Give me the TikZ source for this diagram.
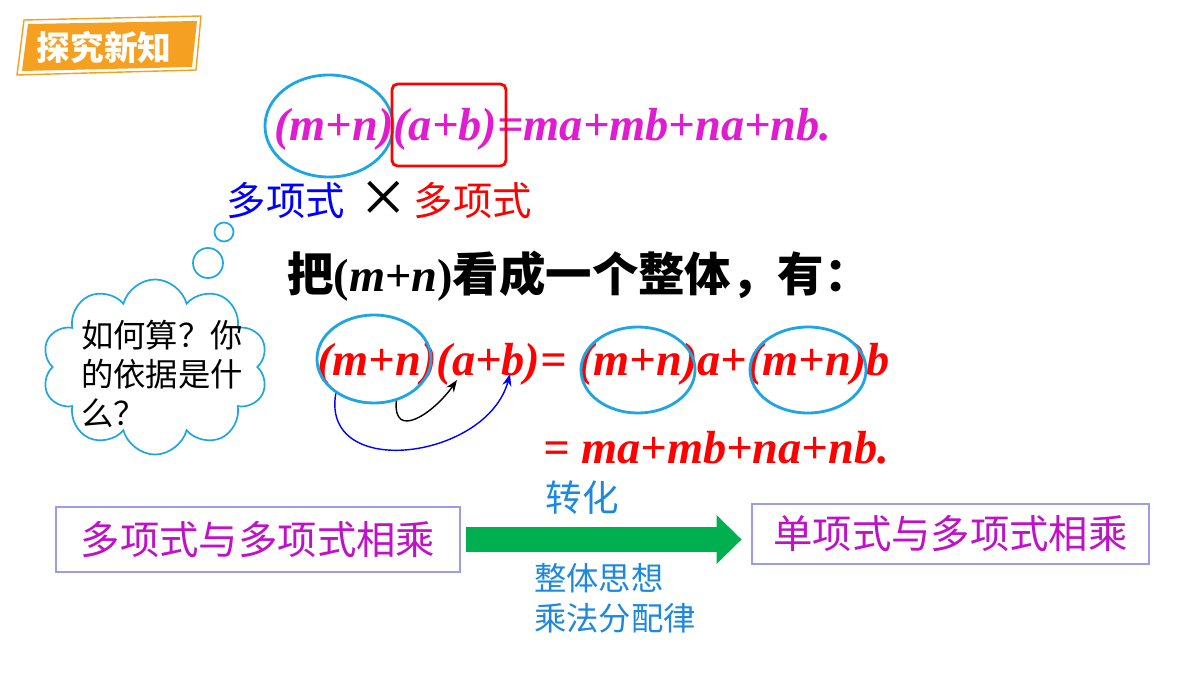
\documentclass[tikz,border=0pt]{standalone}
\usepackage{fontspec}
\setmainfont{Liberation Serif}
\newfontfamily\cjk{Noto Sans CJK SC}
\usepackage{tikz}
\usetikzlibrary{arrows.meta,positioning,shapes.geometric,shapes.symbols}
\definecolor{titleorange}{HTML}{F5A020}
\definecolor{eqmagenta}{HTML}{E01CD0}
\definecolor{ringblue}{HTML}{1EA5E3}
\definecolor{boxedge}{HTML}{9C9CEB}
\definecolor{boxtext}{HTML}{C010C8}
\definecolor{noteblue}{HTML}{1E88E0}
\definecolor{arrowgreen}{HTML}{00B050}
\newcommand\fsz[1]{\fontsize{#1}{#1}\selectfont}

\begin{document}
\begin{tikzpicture}[x=0.025cm, y=-0.025cm,
  ring/.style={ellipse, draw=ringblue, line width=2pt, inner sep=0pt},
  bubble/.style={circle, draw=ringblue, line width=1.2pt, inner sep=0pt},
  eqtext/.style={font={\fsz{33pt}\bfseries\itshape}, inner sep=0pt},
  flowbox/.style={draw=boxedge, line width=2pt, fill=white, text=boxtext, font={\cjk\fsz{28pt}}}]
\useasboundingbox (0,0) rectangle (1200,675);
% title badge
\draw[titleorange, line width=1pt] (24,20)--(201,16)--(196,70)--(17,75)--cycle;
\fill[titleorange] (28,24)--(197,21)--(192,67)--(22,71)--cycle;
\node[text=white, font={\cjk\fsz{24pt}\bfseries}] (title) at (104,47) {探究新知};
% first line
\node[eqtext, text=eqmagenta, anchor=base west] (eqtop) at (274,141)
  {(m+n)(a+b)=ma+mb+na+nb.};
\node[ring, minimum width=3.2cm, minimum height=2.55cm] (ringtop) at (329,126) {};
\node[draw=red, line width=2pt, rounded corners=4pt, minimum width=2.85cm, minimum height=2.05cm] (abbox) at (449,125) {};
\node[text=blue, font={\cjk\fsz{28pt}}] (polyleft) at (286,201) {多项式};
\node[font={\fsz{56pt}}, inner sep=0pt, anchor=base] (times) at (384,224) {×};
\node[text=red, font={\cjk\fsz{28pt}}] (polyright) at (473,201) {多项式};
% thought cloud
\node[bubble, minimum size=0.475cm] (bub1) at (224,232) {};
\node[bubble, minimum size=0.75cm] (bub2) at (208,263) {};
\node[cloud, cloud puffs=10, cloud ignores aspect, draw=ringblue, line width=1.2pt,
  minimum width=5.65cm, minimum height=4.375cm] (cloud) at (155,367) {};
\node[align=left, font={\cjk\fontsize{23pt}{28pt}\selectfont}] (question) at (162,374)
  {如何算？你\\的依据是什\\么？};
% whole-block line
\node[anchor=west, inner sep=0pt, font={\fsz{33pt}\bfseries}] (whole) at (287,276)
  {{\cjk 把}(\textit{m}+\textit{n}){\cjk 看成一个整体，有：}};
% expansion
\node[eqtext, text=red, anchor=base west] (eqmid) at (317,375)
  {(m+n)(a+b)= (m+n)a+(m+n)b};
\node[eqtext, text=red, anchor=base west] (eqlow) at (543,463)
  {= ma+mb+na+nb.};
\node[ring, minimum width=2.85cm, minimum height=2.2cm] (ring1) at (374,359) {};
\node[ring, minimum width=2.85cm, minimum height=2.15cm] (ring2) at (638,370) {};
\node[ring, minimum width=2.9cm, minimum height=2.15cm] (ring3) at (808,370) {};
\coordinate (ta) at (457,380);
\coordinate (tb) at (510,374);
\draw[-{Stealth[length=3mm]}, line width=1pt] (ring1.-62) to[out=-95,in=-125,looseness=1.6] (ta);
\draw[-{Stealth[length=3mm]}, blue, line width=1pt] (ring1.-138) to[out=-100,in=-105,looseness=1.3] (tb);
% conversion
\node[flowbox, minimum width=10.1cm, minimum height=1.625cm] (lbox) at (258,539.5) {多项式与多项式相乘};
\node[flowbox, minimum width=9.925cm, minimum height=1.5cm] (rbox) at (950.5,534) {单项式与多项式相乘};
\draw[arrowgreen, line width=17.8pt, shorten <=3.5pt, shorten >=6.4pt,
  -{Triangle[length=17.8pt, width=34.8pt, line width=0pt]}] (lbox.east) -- (lbox.east -| rbox.west);
\node[text=noteblue, font={\cjk\fsz{26pt}}] (turn) at (582,498) {转化};
\node[text=noteblue, font={\cjk\fsz{23pt}}, anchor=west, inner sep=0pt] (idea) at (534,578) {整体思想};
\node[text=noteblue, font={\cjk\fsz{23pt}}, anchor=west, inner sep=0pt] (law) at (534,618) {乘法分配律};
\end{tikzpicture}
\end{document}
